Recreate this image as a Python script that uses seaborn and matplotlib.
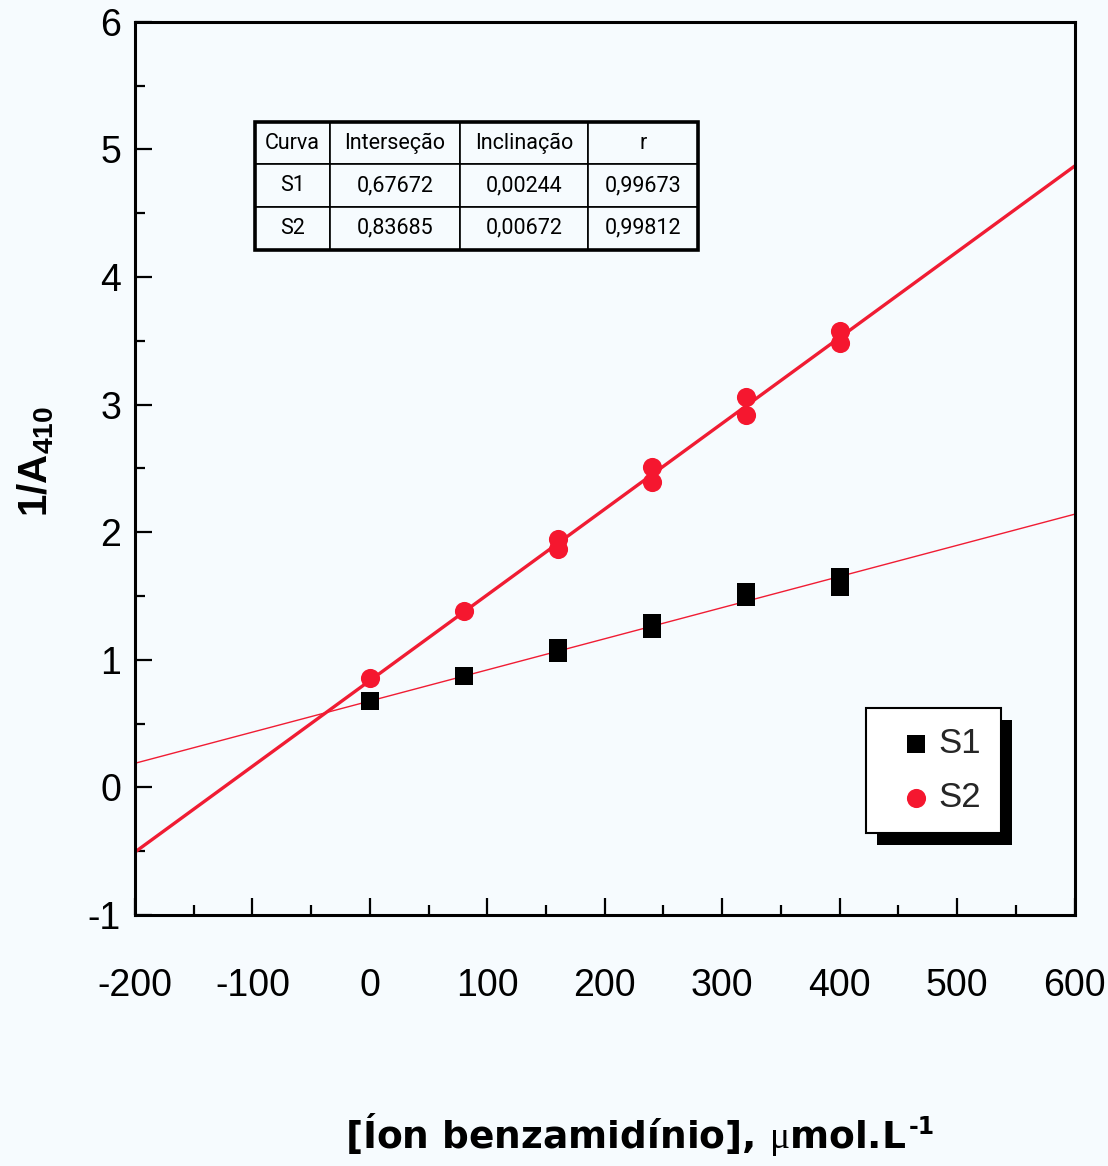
import numpy as np
import matplotlib
matplotlib.use("Agg")
import matplotlib.pyplot as plt
from matplotlib.patches import Rectangle
from matplotlib.ticker import MultipleLocator
import seaborn as sns

# Replicate readings: benzamidinium concentration (umol/L) vs 1/A410
conc_s1 = [0, 80, 160, 160, 240, 240, 320, 320, 400, 400]
inv_abs_s1 = [0.68, 0.87, 1.05, 1.09, 1.24, 1.29, 1.49, 1.53, 1.57, 1.65]
conc_s2 = [0, 80, 160, 160, 240, 240, 320, 320, 400, 400]
inv_abs_s2 = [0.86, 1.38, 1.87, 1.95, 2.39, 2.51, 2.92, 3.06, 3.48, 3.58]

# Linear fits (one per curve)
curves = ["S1", "S2"]
intercepts = [0.67672, 0.83685]
slopes = [0.00244, 0.00672]
r_values = [0.99673, 0.99812]
table_header = ["Curva", "Interseção", "Inclinação", "r"]

x_range = [-200, 600]
y_range = [-1, 6]

BG = "#f6fbfe"
RED_LINE = "#f01c33"
RED_PT = "#f5172f"

sns.set_theme(style="ticks")
plt.rcParams["font.family"] = ["Liberation Sans", "DejaVu Sans"]
plt.rcParams["axes.unicode_minus"] = False
plt.rcParams["mathtext.fontset"] = "custom"
plt.rcParams["mathtext.bf"] = "Liberation Sans:bold"
plt.rcParams["mathtext.rm"] = "Liberation Serif"
plt.rcParams["mathtext.sf"] = "DejaVu Sans:bold"

fig = plt.figure(figsize=(11.08, 11.66), dpi=100, facecolor=BG)
ax = fig.add_axes([0.1218, 0.2153, 0.848, 0.766], facecolor=BG)

# fitted lines across the full x range
xs = np.array(x_range, dtype=float)
for b, m, lw in zip(intercepts, slopes, [1.0, 2.4]):
    sns.lineplot(x=xs, y=b + m * xs, color=RED_LINE, linewidth=lw,
                 ax=ax, zorder=2, legend=False)

sns.scatterplot(x=conc_s1, y=inv_abs_s1, marker="s", s=150, color="black",
                linewidth=0, label="S1", ax=ax, zorder=3)
sns.scatterplot(x=conc_s2, y=inv_abs_s2, marker="o", s=190, color=RED_PT,
                linewidth=0, label="S2", ax=ax, zorder=3)

ax.set_xlim(*x_range)
ax.set_ylim(*y_range)
ax.xaxis.set_major_locator(MultipleLocator(100))
ax.xaxis.set_minor_locator(MultipleLocator(50))
ax.yaxis.set_major_locator(MultipleLocator(1))
ax.yaxis.set_minor_locator(MultipleLocator(0.5))
ax.tick_params(which="both", direction="in", top=False, right=False,
               width=1.6, color="black")
ax.tick_params(which="major", length=12, labelsize=27, labelcolor="black")
ax.tick_params(which="minor", length=7)
ax.tick_params(axis="x", which="major", pad=38)
ax.tick_params(axis="y", which="major", pad=10)
ax.set_xlabel("")
ax.set_ylabel("")
for sp in ax.spines.values():
    sp.set_visible(True)
    sp.set_linewidth(2.2)
    sp.set_color("black")

# fit-parameter table
fmt = lambda v: f"{v:.5f}".replace(".", ",")
cell_text = [[c, fmt(b), fmt(m), fmt(r)]
             for c, b, m, r in zip(curves, intercepts, slopes, r_values)]
tbox = [0.128, 0.745, 0.471, 0.143]
tbl = ax.table(cellText=cell_text, colLabels=table_header, cellLoc="center",
               colWidths=[75, 130, 128, 110], bbox=tbox, zorder=4)
tbl.auto_set_font_size(False)
tbl.set_fontsize(15.5)
for (r, c), cell in tbl.get_celld().items():
    cell.set_edgecolor("black")
    cell.set_linewidth(1.2)
    cell.set_facecolor(BG)
    cell.get_text().set_fontfamily("Roboto")
    cell.get_text().set_color("black")
ax.add_patch(Rectangle((tbox[0], tbox[1]), tbox[2], tbox[3],
                       transform=ax.transAxes, fill=False, lw=2.6,
                       edgecolor="black", zorder=5, clip_on=False))

# legend with solid offset shadow
leg = ax.legend(loc="upper left", bbox_to_anchor=(0.778, 0.232),
                frameon=True, fancybox=False, framealpha=1,
                edgecolor="black", facecolor="white", fontsize=25,
                borderpad=0.55, handlelength=1.8, handletextpad=-0.25,
                labelspacing=0.6, borderaxespad=0)
leg.get_frame().set_linewidth(1.5)
leg.set_zorder(6)

fig.text(0.032, 0.604, r"$\mathbf{1/A}_{\mathbf{410}}$", rotation=90,
         ha="center", va="center", fontsize=29, color="black")
xlab = fig.text(0.565, 0.027,
                r"[Íon benzamidínio], $\mathrm{\mu}$mol.L",
                fontsize=27, fontweight="bold", family="DejaVu Sans",
                ha="center", va="center", color="black")

fig.canvas.draw()
renderer = fig.canvas.get_renderer()
xb = xlab.get_window_extent(renderer).transformed(fig.transFigure.inverted())
fig.text(xb.x1 + 2 / 1108, xb.y1 - 4 / 1166, "-1", fontsize=17,
         fontweight="bold", family="DejaVu Sans", ha="left", va="top",
         color="black")

bb = leg.get_window_extent(renderer).transformed(fig.transFigure.inverted())
dx, dy = 11 / 1108, 12 / 1166
ax.add_patch(Rectangle((bb.x0 + dx, bb.y0 - dy), bb.width, bb.height,
                       transform=fig.transFigure, facecolor="black",
                       edgecolor="none", zorder=5.5, clip_on=False))

fig.savefig("out.png", dpi=100, facecolor=BG)
